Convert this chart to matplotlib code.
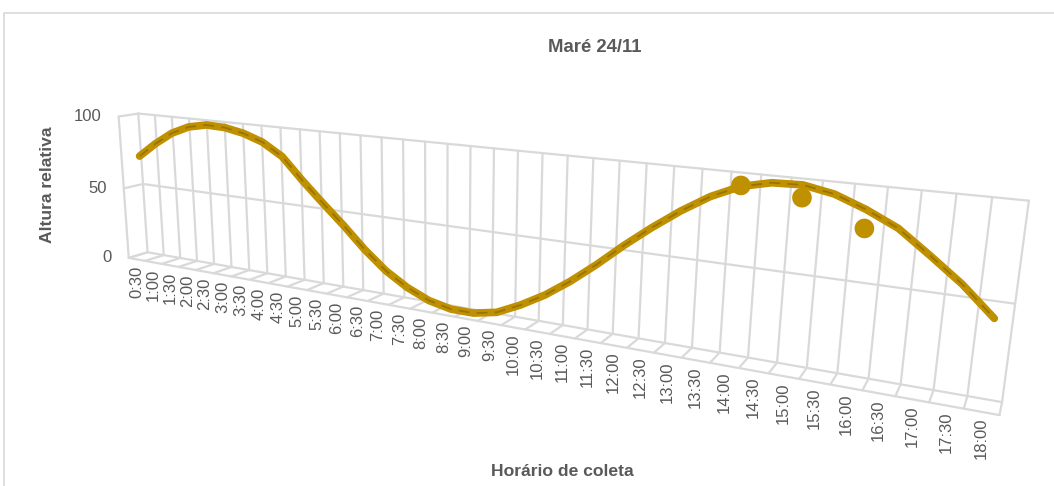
import numpy as np
import matplotlib.pyplot as plt
from matplotlib.patches import Rectangle
from mpl_toolkits.mplot3d import proj3d

plt.rcParams['font.family'] = ['Liberation Sans', 'DejaVu Sans']

# horarios de coleta (eixo de categorias)
horarios = ['0:30', '1:00', '1:30', '2:00', '2:30', '3:00', '3:30', '4:00', '4:30',
            '5:00', '5:30', '6:00', '6:30', '7:00', '7:30', '8:00', '8:30', '9:00',
            '9:30', '10:00', '10:30', '11:00', '11:30', '12:00', '12:30', '13:00',
            '13:30', '14:00', '14:30', '15:00', '15:30', '16:00', '16:30', '17:00',
            '17:30', '18:00']
# curva da mare (altura relativa)
mare = [72, 82, 90.5, 96, 98.5, 98, 95.5, 91, 83, 69, 56, 43.5, 30, 18.5, 10, 4,
        1, 1, 4, 11, 19.5, 30, 42, 55, 67, 78, 87.5, 94.5, 98, 98.5, 95.5, 89.5,
        82, 70.5, 58.5, 44]
# pontos medidos
coleta_horarios = ['14:00', '15:00', '16:00']
coleta_altura = [95, 92, 80]

yticks = [0, 50, 100]

OURO = '#BF9000'
GRADE = '#D9D9D9'
TEXTO = '#595959'

n = len(horarios)
W, H = 1054, 486
fig = plt.figure(figsize=(W / 100, H / 100), dpi=100)
fig.patch.set_facecolor('white')
fig.add_artist(Rectangle((4 / W, -0.1), 1.2, (H - 13) / H + 0.1,
                         transform=fig.transFigure, fill=False,
                         edgecolor=GRADE, linewidth=1.2))

S = 946  # lado do quadrado do eixo 3D, em pixels
cx0, cy0 = 473, 248
ax = fig.add_axes([(cx0 - S / 2) / W, (H - cy0 - S / 2) / H, S / W, S / H],
                  projection='3d', computed_zorder=False)
ax.set_proj_type('persp', focal_length=0.2137)
ax.view_init(elev=14, azim=-62, roll=-0.6)
ax.set_box_aspect((5.6, 0.18, 1))
ax.set_xlim(0, n)
ax.set_ylim(0, 1)
ax.set_zlim(0, 100)
ax.set_axis_off()
ax.patch.set_alpha(0)

gk = dict(color=GRADE, lw=1.6, zorder=1, solid_capstyle='round', clip_on=False)
# parede do fundo
for k in range(n + 1):
    ax.plot([k, k], [1, 1], [0, 100], **gk)
for v in yticks:
    ax.plot([0, n], [1, 1], [v, v], **gk)
    ax.plot([0, 0], [0, 1], [v, v], **gk)
# piso
for k in range(n + 1):
    ax.plot([k, k], [0, 1], [0, 0], **gk)
ax.plot([0, n], [0, 0], [0, 0], **gk)
ax.plot([0, 0], [0, 0], [0, 100], **gk)

xs = np.arange(n) + 0.5
ax.plot(xs, np.full(n, 0.5), mare, color=OURO, lw=5.5, zorder=3,
        solid_capstyle='round', solid_joinstyle='round', clip_on=False)
ax.plot(xs, np.full(n, 0.5), mare, color='#9A7400', lw=1.3, zorder=4,
        dashes=(6, 4), clip_on=False)

cx = [horarios.index(h) + 0.5 for h in coleta_horarios]
ax.scatter(cx, [0.5] * len(cx), coleta_altura, s=200, color=OURO,
           depthshade=False, zorder=5, edgecolors='none', clip_on=False)

# rotulos posicionados pela projecao da propria camera do eixo
M = ax.get_proj()
for i, h in enumerate(horarios):
    px, py, _ = proj3d.proj_transform(i + 0.5, 0, 0, M)
    ax.annotate(h, (px, py), xytext=(0, -6), textcoords='offset pixels',
                rotation=90, ha='center', va='top', fontsize=12, color=TEXTO,
                annotation_clip=False)
for v in yticks:
    px, py, _ = proj3d.proj_transform(0, 0, v, M)
    ax.annotate(str(v), (px, py), xytext=(-17, 0), textcoords='offset pixels',
                ha='right', va='center', fontsize=12, color=TEXTO,
                annotation_clip=False)

fig.text(595 / W, 1 - 47 / H, 'Maré 24/11', ha='center', va='center',
         fontsize=13.3, fontweight='bold', color=TEXTO)
fig.text(47 / W, 1 - 185 / H, 'Altura relativa', rotation=90,
         ha='center', va='center', fontsize=12.6, fontweight='bold',
         color=TEXTO)
fig.text(562 / W, 1 - 471 / H, 'Horário de coleta', ha='center',
         va='center', fontsize=12.6, fontweight='bold', color=TEXTO)

fig.savefig('out.png', dpi=100)
